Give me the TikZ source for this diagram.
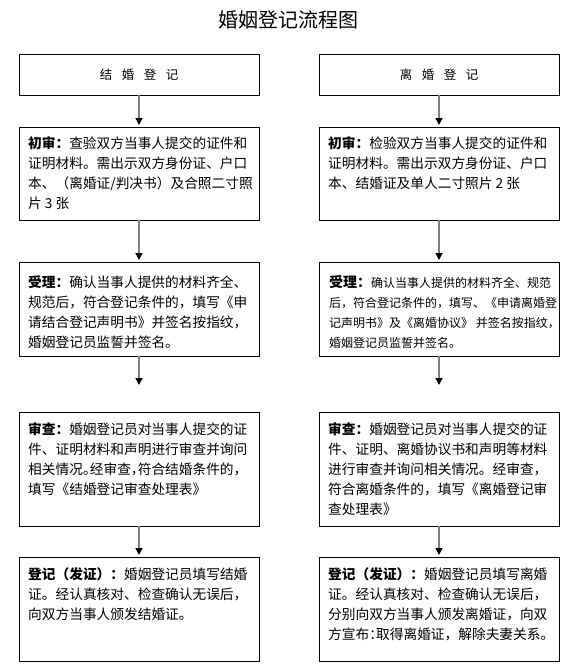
\documentclass[tikz,border=0pt]{standalone}
\usepackage{fontspec}
\setmainfont{Noto Sans CJK SC}
\usetikzlibrary{arrows.meta}
\newcommand\hl[1]{\makebox[0.5em][l]{#1}}
\newcommand\hr[1]{\makebox[0.5em][r]{#1}}
\begin{document}
\begin{tikzpicture}[x=1pt,y=-1pt,
  box/.style={draw=black, line width=0.9pt, anchor=north west, inner sep=0pt, outer sep=0pt, minimum width=240pt},
  head/.style={font=\fontsize{12.5}{14}\selectfont},
  txt/.style={anchor=north west, inner sep=0pt, align=left, font=\fontsize{13.7}{20}\selectfont},
  flow/.style={draw=black!50, line width=1.4pt, -{Triangle[width=7pt,length=7pt,color=black]}},
]
\useasboundingbox[fill=white] (0,0) rectangle (577,664);
\node[font=\fontsize{20}{24}\selectfont] (title) at (288,20) {婚姻登记流程图};

% left column
\node[box, head, minimum height=41pt] (l0) at (19,54) {结\hspace{9.5pt}婚\hspace{9.5pt}登\hspace{9.5pt}记};
\node[box, minimum height=93pt] (l1) at (19,127) {};
\node[box, minimum height=94pt] (l2) at (19,262) {};
\node[box, minimum height=114pt] (l3) at (19,412) {};
\node[box, minimum height=104pt] (l4) at (19,557) {};

% right column
\node[box, head, minimum height=41pt] (r0) at (319,54) {离\hspace{9.5pt}婚\hspace{9.5pt}登\hspace{9.5pt}记};
\node[box, minimum height=93pt] (r1) at (319,127) {};
\node[box, minimum height=94pt] (r2) at (319,262) {};
\node[box, minimum height=114pt] (r3) at (319,412) {};
\node[box, minimum height=104pt] (r4) at (319,557) {};

% texts left
\node[txt] (lt1) at (28,136) {\textbf{初审：}查验双方当事人提交的证件和\\证明材料。需出示双方身份证、户口\\本、（离婚证/判决书）及合照二寸照\\片 3 张};
\node[txt] (lt2) at (28,275) {\textbf{受理：}确认当事人提供的材料齐全、\\规范后，符合登记条件的，填写《申\\请结合登记声明书》并签名按指纹，\\婚姻登记员监誓并签名。};
\node[txt] (lt3) at (28,422) {\textbf{审查：}婚姻登记员对当事人提交的证\\件、证明材料和声明进行审查并询问\\相关情况\hl{。}经审查\hl{，}符合结婚条件的，\\填写《结婚登记审查处理表》};
\node[txt] (lt4) at (28,567) {\textbf{登记（发证）：}婚姻登记员填写结婚\\证。经认真核对、检查确认无误后，\\向双方当事人颁发结婚证。};

% texts right
\node[txt] (rt1) at (328,136) {\textbf{初审：}检验双方当事人提交的证件和\\证明材料。需出示双方身份证、户口\\本、结婚证及单人二寸照片 2 张};
\node[txt, font=\fontsize{12}{20}\selectfont] (rt2) at (329,275) {\textbf{\fontsize{14}{20}\selectfont 受理：}确认当事人提供的材料齐全、规范\\后，符合登记条件的，填写、《申请离婚登\\记声明书》及《离婚协议》 并签名按指纹，\\婚姻登记员监誓并签名。};
\node[txt] (rt3) at (328,422) {\textbf{审查：}婚姻登记员对当事人提交的证\\件、证明、离婚协议书和声明等材料\\进行审查并询问相关情况。经审查，\\符合离婚条件的，填写《离婚登记审\\查处理表》};
\node[txt] (rt4) at (328,567) {\textbf{登记（发证）：}婚姻登记员填写离婚\\证。经认真核对、检查确认无误后，\\分别向双方当事人颁发离婚证，向双\\方宣布\hl{：}取得离婚证，解除夫妻关系。};

% connectors
\draw[flow, shorten >=2pt] (l0) -- (l1);
\draw[flow, shorten >=2pt] (l1) -- (l2);
\draw[flow, shorten >=27pt] (l2) -- (l3);
\draw[flow, shorten >=2pt] (l3) -- (l4);
\draw[flow, shorten >=2pt] (r0) -- (r1);
\draw[flow, shorten >=2pt] (r1) -- (r2);
\draw[flow, shorten >=27pt] (r2) -- (r3);
\draw[flow, shorten >=2pt] (r3) -- (r4);
\end{tikzpicture}
\end{document}
